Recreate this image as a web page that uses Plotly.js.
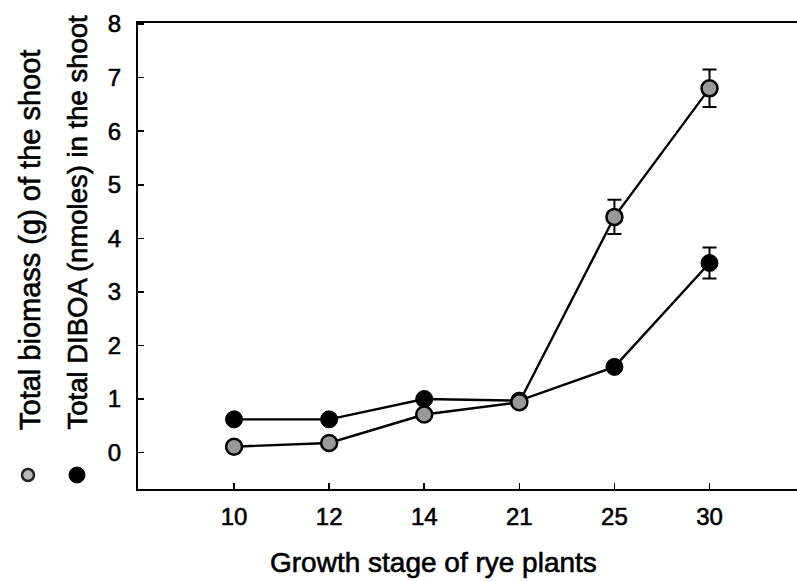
<!DOCTYPE html>
<html>
<head>
<meta charset="utf-8">
<script src="https://cdn.plot.ly/plotly-3.0.1.min.js"></script>
<style>
html,body{margin:0;padding:0;background:#fff;}
#chart{width:797px;height:581px;}
#chart svg text{stroke:#000;stroke-width:0.6px;}
</style>
</head>
<body>
<div id="chart"></div>
<script>
// Data
var stages = ['10', '12', '14', '21', '25', '30'];
var biomass = [0.11, 0.18, 0.71, 0.94, 4.40, 6.80];
var biomassErr = [0, 0, 0, 0, 0.32, 0.35];
var diboa = [0.62, 0.62, 1.00, 0.97, 1.60, 3.54];
var diboaErr = [0, 0, 0, 0, 0, 0.29];
var yTicks = [0, 1, 2, 3, 4, 5, 6, 7, 8];

var W = 797, H = 581;
var L = 138, R = 0, T = 23, B = 92;
var pw = W - L - R, ph = H - T - B;
function px(x) { return (x - L) / pw; }
function py(y) { return (H - B - y) / ph; }

var FONT = 'Liberation Sans, Arial, Helvetica, sans-serif';

var traces = [
  {
    x: stages, y: diboa, type: 'scatter', mode: 'lines+markers',
    line: {color: '#000', width: 2.4},
    marker: {size: 17, color: '#000', line: {color: '#000', width: 1}},
    error_y: {type: 'data', array: diboaErr, visible: true, color: '#000', thickness: 2, width: 7},
    cliponaxis: false, showlegend: false, hoverinfo: 'none'
  },
  {
    x: stages, y: biomass, type: 'scatter', mode: 'lines+markers',
    line: {color: '#000', width: 2.4},
    marker: {size: 16, color: '#999999', line: {color: '#000', width: 2.5}},
    error_y: {type: 'data', array: biomassErr, visible: true, color: '#000', thickness: 2, width: 7},
    cliponaxis: false, showlegend: false, hoverinfo: 'none'
  }
];

var layout = {
  width: W, height: H,
  margin: {l: L, r: R, t: T, b: B, pad: 0},
  paper_bgcolor: '#fff', plot_bgcolor: '#fff',
  font: {family: FONT, color: '#000'},
  showlegend: false,
  xaxis: {
    type: 'category', categoryorder: 'array', categoryarray: stages,
    range: [-1.01, 5.92],
    showgrid: false, zeroline: false,
    showline: true, linecolor: '#000', linewidth: 2.2, mirror: true,
    ticks: 'inside', ticklen: 6, tickwidth: 1.5, tickcolor: '#000',
    tickfont: {family: FONT, size: 24, color: '#000'},
    ticklabelstandoff: 5
  },
  yaxis: {
    range: [-0.68, 8.02],
    tickvals: yTicks, ticktext: yTicks.map(String),
    showgrid: false, zeroline: false,
    showline: true, linecolor: '#000', linewidth: 2.2,
    ticks: 'inside', ticklen: 6, tickwidth: 1.5, tickcolor: '#000',
    tickfont: {family: FONT, size: 24, color: '#000'},
    ticklabelstandoff: 10
  },
  annotations: [
    {xref: 'paper', yref: 'paper', x: px(30), y: py(432), xanchor: 'center', yanchor: 'bottom',
     text: 'Total biomass (g) of the shoot', textangle: -90, showarrow: false,
     font: {family: FONT, size: 29, color: '#000'}},
    {xref: 'paper', yref: 'paper', x: px(77), y: py(432), xanchor: 'center', yanchor: 'bottom',
     text: 'Total DIBOA (nmoles) in the shoot', textangle: -90, showarrow: false,
     font: {family: FONT, size: 27.5, color: '#000'}},
    {xref: 'paper', yref: 'paper', x: px(433), y: py(562), xanchor: 'center', yanchor: 'middle',
     text: 'Growth stage of rye plants', showarrow: false,
     font: {family: FONT, size: 28, color: '#000'}}
  ],
  shapes: [
    {type: 'circle', xref: 'paper', yref: 'paper', xsizemode: 'pixel', ysizemode: 'pixel',
     xanchor: px(28), yanchor: py(475), x0: -6, x1: 6, y0: -6, y1: 6,
     fillcolor: '#b8b8b8', line: {color: '#222', width: 2.5}},
    {type: 'circle', xref: 'paper', yref: 'paper', xsizemode: 'pixel', ysizemode: 'pixel',
     xanchor: px(77), yanchor: py(475), x0: -8, x1: 8, y0: -8, y1: 8,
     fillcolor: '#000', line: {color: '#000', width: 1}}
  ]
};

Plotly.newPlot('chart', traces, layout, {staticPlot: true, displayModeBar: false});
</script>
</body>
</html>
